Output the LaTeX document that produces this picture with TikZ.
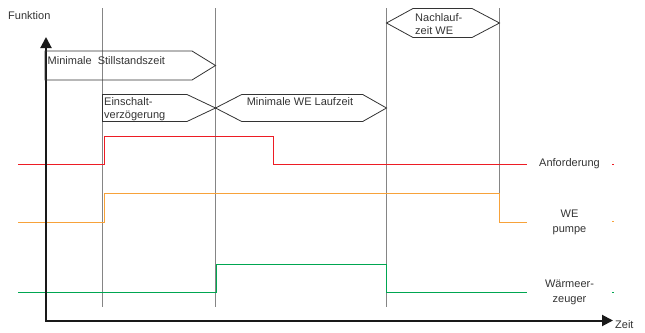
\documentclass[tikz,border=0pt]{standalone}
\usepackage{fontspec}
\setmainfont{Liberation Sans}
\usetikzlibrary{arrows.meta}
\definecolor{sigred}{HTML}{ED1C24}
\definecolor{sigorange}{HTML}{F7A23A}
\definecolor{siggreen}{HTML}{00A651}
\definecolor{vgray}{HTML}{858585}
\definecolor{txtgray}{HTML}{333333}
\begin{document}
\begin{tikzpicture}[x=1pt,y=-1pt,
  lbl/.style={font=\fontsize{11}{13}\selectfont, text=txtgray, inner sep=0pt},
  boxlbl/.style={lbl, align=left},
  sidelbl/.style={font=\fontsize{11}{15}\selectfont, text=txtgray, inner sep=0pt, align=center},
  vline/.style={draw=vgray, line width=1pt},
  hexbox/.style={draw=black!80, line width=0.8pt, line join=miter},
  axis/.style={draw=black!90, line width=2pt, -{Triangle[length=11pt,width=11pt]}},
  sig/.style={line width=1.1pt}
]
\useasboundingbox (0,0) rectangle (645,332);

% vertical time markers
\draw[vline] (102.5,8) -- (102.5,307);
\draw[vline] (215.5,8) -- (215.5,307);
\draw[vline] (386.5,8) -- (386.5,307);
\draw[vline] (499.5,8) -- (499.5,220);

% signals
\draw[sig, sigred] (18,164.5) -- (104.5,164.5) -- (104.5,136.5) -- (273.5,136.5) -- (273.5,164.5) -- (527,164.5);
\draw[sig, sigorange] (18,222.5) -- (104.5,222.5) -- (104.5,193.5) -- (499.5,193.5) -- (499.5,222.5) -- (527,222.5);
\draw[sig, siggreen] (18,292.5) -- (216.5,292.5) -- (216.5,264.5) -- (386.5,264.5) -- (386.5,292.5) -- (527,292.5);

% small marks at right
\draw[sigred, line width=1pt] (612,164.5) -- (614,164.5);
\draw[sigorange, line width=1pt] (612,221.5) -- (614,221.5);
\draw[siggreen, line width=1pt] (612,292.5) -- (614,292.5);

% axes
\coordinate (ytip) at (46,37);
\coordinate (xtip) at (613,320.5);
\draw[axis] (46,321.5) -- (ytip);
\draw[axis] (45,320.5) -- (xtip);

% hexagon boxes
\draw[hexbox] (45,51) -- (192,51) -- (215.5,65.5) -- (192,80) -- (45,80) -- cycle;
\draw[hexbox] (102.5,94.5) -- (187,94.5) -- (215.5,108) -- (187,121.5) -- (102.5,121.5) -- cycle;
\draw[hexbox] (215.5,108) -- (241.7,94.5) -- (362.7,94.5) -- (386.5,108) -- (362.7,121.5) -- (241.7,121.5) -- cycle;
\draw[hexbox] (386.5,23) -- (413,8.5) -- (472,8.5) -- (499.5,23) -- (472,37.5) -- (413,37.5) -- cycle;

% labels
\node[lbl, anchor=west] (funktion) at (8,16) {Funktion};
\node[lbl, anchor=north west] (zeit) at (615,320) {Zeit};
\node[lbl, anchor=west] (still) at (47.5,61) {Minimale\ \ Stillstandszeit};
\node[boxlbl, anchor=west] (einsch) at (104,108.8) {Einschalt-\\verzögerung};
\node[lbl] (lauf) at (300,101.7) {Minimale WE Laufzeit};
\node[boxlbl, anchor=west] (nach) at (415,24) {Nachlauf-\\zeit WE};
\node[sidelbl] (anf) at (569.5,164) {Anforderung};
\node[sidelbl] (pumpe) at (569.5,222.5) {WE\\pumpe};
\node[sidelbl] (waerme) at (569.5,292.3) {Wärmeer-\\zeuger};
\end{tikzpicture}
\end{document}
